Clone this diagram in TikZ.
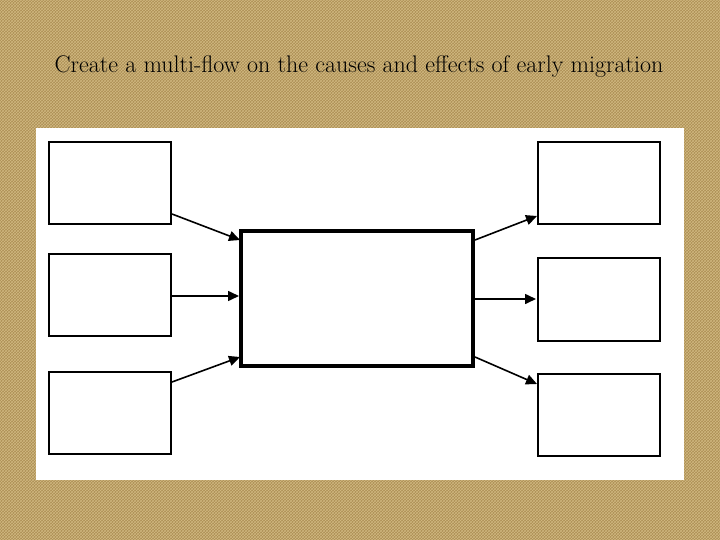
\documentclass[tikz,border=0pt]{standalone}
\usetikzlibrary{arrows.meta,patterns}
\definecolor{burlap}{RGB}{172,142,84}
\definecolor{burlaplight}{RGB}{208,184,128}
\tikzset{
  smallbox/.style={draw=black, line width=1.6pt, fill=white},
  bigbox/.style={draw=black, line width=3.6pt, fill=white},
  flow/.style={draw=black, line width=1.6pt, -{Triangle[length=11pt,width=10pt]}},
}
\begin{document}
\begin{tikzpicture}[x=1pt,y=-1pt]
\useasboundingbox (0,0) rectangle (720,540);
\fill[burlap] (0,0) rectangle (720,540);
\fill[pattern=crosshatch, pattern color=burlaplight] (0,0) rectangle (720,540);
\fill[white] (36,128) rectangle (684,480);
\node[font=\fontsize{24}{28}\selectfont, anchor=center] (title) at (359,67) {Create a multi-flow on the causes and effects of early migration};
% left boxes
\draw[smallbox] (49,142) rectangle (171,224);
\draw[smallbox] (49,254) rectangle (171,336);
\draw[smallbox] (49,372) rectangle (171,454);
% center
\draw[bigbox] (241,231) rectangle (473,366);
% right boxes
\draw[smallbox] (538,142) rectangle (660,224);
\draw[smallbox] (538,258) rectangle (660,341);
\draw[smallbox] (538,374) rectangle (660,456);
% coordinates
\coordinate (a1s) at (172,214); \coordinate (a1e) at (240,240);
\coordinate (a2s) at (172,296); \coordinate (a2e) at (239,296);
\coordinate (a3s) at (172,382); \coordinate (a3e) at (240,357);
\coordinate (b1s) at (475,240); \coordinate (b1e) at (537,216);
\coordinate (b2s) at (475,299); \coordinate (b2e) at (536,299);
\coordinate (b3s) at (475,357); \coordinate (b3e) at (537,384);
\draw[flow] (a1s) -- (a1e);
\draw[flow] (a2s) -- (a2e);
\draw[flow] (a3s) -- (a3e);
\draw[flow] (b1s) -- (b1e);
\draw[flow] (b2s) -- (b2e);
\draw[flow] (b3s) -- (b3e);
\end{tikzpicture}
\end{document}
